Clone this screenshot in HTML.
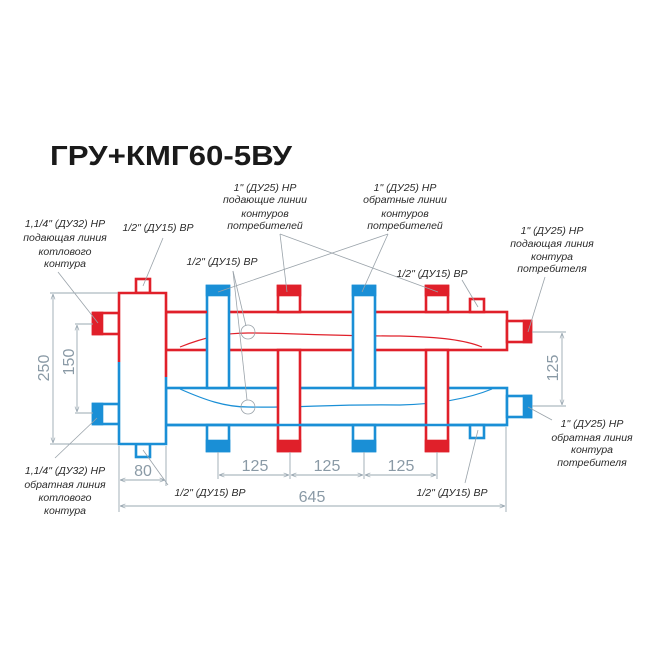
<!DOCTYPE html>
<html><head><meta charset="utf-8"><style>
html,body{margin:0;padding:0;background:#fff;}
svg{display:block;}
.t{font-family:"Liberation Sans",sans-serif;font-style:italic;font-size:10.5px;fill:#2a2a2a;text-anchor:middle;}
.d{font-family:"Liberation Sans",sans-serif;font-size:16px;fill:#8a9aa6;text-anchor:middle;}
.l{stroke:#9aa3aa;stroke-width:0.8;fill:none;}
.dm{stroke:#9aa8b2;stroke-width:0.9;fill:none;}
</style></head><body>
<svg width="650" height="650" viewBox="0 0 650 650" xmlns="http://www.w3.org/2000/svg">
<defs>
<marker id="a" viewBox="0 0 8 8" refX="8" refY="4" markerWidth="6" markerHeight="6" orient="auto-start-reverse"><path d="M0,1 L8,4 L0,7" fill="none" stroke="#9aa8b2" stroke-width="1"/></marker>
</defs>
<text x="50" y="165" font-family="Liberation Sans,sans-serif" font-weight="bold" font-size="28" fill="#1a1a1a" textLength="242" lengthAdjust="spacingAndGlyphs">ГРУ+КМГ60-5ВУ</text>

<g stroke-width="2.6" fill="#fff">
<!-- headers -->
<rect x="166" y="312" width="341" height="38" stroke="#e0202a"/>
<rect x="166" y="388" width="341" height="37" stroke="#1a8fd6"/>
<!-- right ports -->
<rect x="507" y="321" width="24" height="21" stroke="#e0202a"/>
<rect x="524" y="321" width="7" height="21" fill="#e0202a" stroke="#e0202a"/>
<rect x="507" y="396" width="24" height="21" stroke="#1a8fd6"/>
<rect x="524" y="396" width="7" height="21" fill="#1a8fd6" stroke="#1a8fd6"/>
<!-- small top/bottom right ports -->
<rect x="470" y="299" width="14" height="13" stroke="#e0202a"/>
<rect x="470" y="425" width="14" height="13" stroke="#1a8fd6"/>
<!-- left ports -->
<rect x="93" y="313" width="26" height="21" stroke="#e0202a"/>
<rect x="93" y="313" width="9" height="21" fill="#e0202a" stroke="#e0202a"/>
<rect x="93" y="404" width="26" height="20" stroke="#1a8fd6"/>
<rect x="93" y="404" width="9" height="20" fill="#1a8fd6" stroke="#1a8fd6"/>
<!-- separator top/bottom ports -->
<rect x="136" y="279" width="14" height="14" stroke="#e0202a"/>
<rect x="136" y="444" width="14" height="13" stroke="#1a8fd6"/>
</g>
<!-- separator -->
<rect x="119" y="293" width="47" height="151" fill="#fff"/>
<g fill="none" stroke-width="2.6">
<polyline points="119,362 119,293 166,293 166,377" stroke="#e0202a"/>
<polyline points="119,362 119,444 166,444 166,377" stroke="#1a8fd6"/>
</g>
<!-- waves -->
<path d="M180,347 C205,337 225,333 248,333 C290,333 330,336 400,336 C440,337 465,340 482,347" fill="none" stroke="#e0202a" stroke-width="1.2"/>
<path d="M180,389 C205,400 225,407 248,407 C300,408 330,404 400,405 C440,404 470,398 492,389" fill="none" stroke="#1a8fd6" stroke-width="1.2"/>

<!-- verticals -->
<g stroke-width="2.6">
<!-- blue 1 -->
<rect x="207" y="286" width="22" height="102" fill="#fff" stroke="#1a8fd6"/>
<rect x="207" y="286" width="22" height="9" fill="#1a8fd6" stroke="#1a8fd6"/>
<rect x="207" y="425" width="22" height="26" fill="#fff" stroke="#1a8fd6"/>
<rect x="207" y="441" width="22" height="10" fill="#1a8fd6" stroke="#1a8fd6"/>
<!-- blue 2 -->
<rect x="353" y="286" width="22" height="102" fill="#fff" stroke="#1a8fd6"/>
<rect x="353" y="286" width="22" height="9" fill="#1a8fd6" stroke="#1a8fd6"/>
<rect x="353" y="425" width="22" height="26" fill="#fff" stroke="#1a8fd6"/>
<rect x="353" y="441" width="22" height="10" fill="#1a8fd6" stroke="#1a8fd6"/>
<!-- red 1 -->
<rect x="278" y="286" width="22" height="26" fill="#fff" stroke="#e0202a"/>
<rect x="278" y="286" width="22" height="9" fill="#e0202a" stroke="#e0202a"/>
<rect x="278" y="350" width="22" height="101" fill="#fff" stroke="#e0202a"/>
<rect x="278" y="441" width="22" height="10" fill="#e0202a" stroke="#e0202a"/>
<!-- red 2 -->
<rect x="426" y="286" width="22" height="26" fill="#fff" stroke="#e0202a"/>
<rect x="426" y="286" width="22" height="9" fill="#e0202a" stroke="#e0202a"/>
<rect x="426" y="350" width="22" height="101" fill="#fff" stroke="#e0202a"/>
<rect x="426" y="441" width="22" height="10" fill="#e0202a" stroke="#e0202a"/>
</g>
<!-- redraw header inner joins -->
<g stroke-width="2.6">
<line x1="166" y1="312" x2="207" y2="312" stroke="#e0202a"/>
<line x1="166" y1="425" x2="507" y2="425" stroke="#1a8fd6"/>
</g>
<!-- circles -->
<circle cx="248" cy="332" r="7" class="l"/>
<circle cx="248" cy="407" r="7" class="l"/>

<!-- leaders -->
<g class="l">
<line x1="58" y1="272" x2="98" y2="323"/>
<line x1="163" y1="238" x2="143" y2="286"/>
<line x1="280" y1="234" x2="287" y2="292"/>
<line x1="280" y1="234" x2="438" y2="292"/>
<line x1="388" y1="234" x2="362" y2="292"/>
<line x1="388" y1="234" x2="218" y2="292"/>
<line x1="233" y1="271" x2="246" y2="326"/>
<line x1="233" y1="271" x2="247" y2="400"/>
<line x1="545" y1="277" x2="528" y2="332"/>
<line x1="462" y1="280" x2="478" y2="307"/>
<line x1="552" y1="420" x2="528" y2="407"/>
<line x1="465" y1="483" x2="478" y2="430"/>
<line x1="168" y1="485" x2="143" y2="450"/>
<line x1="55" y1="458" x2="97" y2="418"/>
</g>

<!-- dimensions -->
<g class="dm">
<line x1="50" y1="293" x2="118" y2="293"/>
<line x1="50" y1="444" x2="118" y2="444"/>
<line x1="53" y1="294" x2="53" y2="443" marker-start="url(#a)" marker-end="url(#a)"/>
<line x1="75" y1="324" x2="93" y2="324"/>
<line x1="75" y1="413" x2="93" y2="413"/>
<line x1="77" y1="325" x2="77" y2="412" marker-start="url(#a)" marker-end="url(#a)"/>
<line x1="119" y1="446" x2="119" y2="512"/>
<line x1="166" y1="446" x2="166" y2="486"/>
<line x1="120" y1="480" x2="165" y2="480" marker-start="url(#a)" marker-end="url(#a)"/>
<line x1="120" y1="506" x2="505" y2="506" marker-start="url(#a)" marker-end="url(#a)"/>
<line x1="506" y1="427" x2="506" y2="512"/>
<line x1="218" y1="452" x2="218" y2="479"/>
<line x1="290" y1="452" x2="290" y2="479"/>
<line x1="364" y1="452" x2="364" y2="479"/>
<line x1="437" y1="452" x2="437" y2="479"/>
<line x1="219" y1="475" x2="289" y2="475" marker-start="url(#a)" marker-end="url(#a)"/>
<line x1="291" y1="475" x2="363" y2="475" marker-start="url(#a)" marker-end="url(#a)"/>
<line x1="365" y1="475" x2="436" y2="475" marker-start="url(#a)" marker-end="url(#a)"/>
<line x1="532" y1="332" x2="566" y2="332"/>
<line x1="532" y1="406" x2="566" y2="406"/>
<line x1="562" y1="333" x2="562" y2="405" marker-start="url(#a)" marker-end="url(#a)"/>
</g>
<text class="d" transform="translate(49,368) rotate(-90)">250</text>
<text class="d" transform="translate(74,362) rotate(-90)">150</text>
<text class="d" x="143" y="476">80</text>
<text class="d" x="255" y="471">125</text>
<text class="d" x="327" y="471">125</text>
<text class="d" x="401" y="471">125</text>
<text class="d" x="312" y="502">645</text>
<text class="d" transform="translate(558,368) rotate(-90)">125</text>

<!-- labels -->
<g class="t">
<text x="65" y="227">1,1/4" (ДУ32) НР</text>
<text x="65" y="241">подающая линия</text>
<text x="65" y="255">котлового</text>
<text x="65" y="267">контура</text>
<text x="158" y="231">1/2" (ДУ15) ВР</text>
<text x="265" y="191">1" (ДУ25) НР</text>
<text x="265" y="203">подающие линии</text>
<text x="265" y="217">контуров</text>
<text x="265" y="229">потребителей</text>
<text x="222" y="265">1/2" (ДУ15) ВР</text>
<text x="405" y="191">1" (ДУ25) НР</text>
<text x="405" y="203">обратные линии</text>
<text x="405" y="217">контуров</text>
<text x="405" y="229">потребителей</text>
<text x="432" y="277">1/2" (ДУ15) ВР</text>
<text x="552" y="234">1" (ДУ25) НР</text>
<text x="552" y="247">подающая линия</text>
<text x="552" y="260">контура</text>
<text x="552" y="272">потребителя</text>
<text x="592" y="427">1" (ДУ25) НР</text>
<text x="592" y="441">обратная линия</text>
<text x="592" y="453">контура</text>
<text x="592" y="466">потребителя</text>
<text x="65" y="474">1,1/4" (ДУ32) НР</text>
<text x="65" y="488">обратная линия</text>
<text x="65" y="501">котлового</text>
<text x="65" y="514">контура</text>
<text x="210" y="496">1/2" (ДУ15) ВР</text>
<text x="452" y="496">1/2" (ДУ15) ВР</text>
</g>
</svg>
</body></html>
